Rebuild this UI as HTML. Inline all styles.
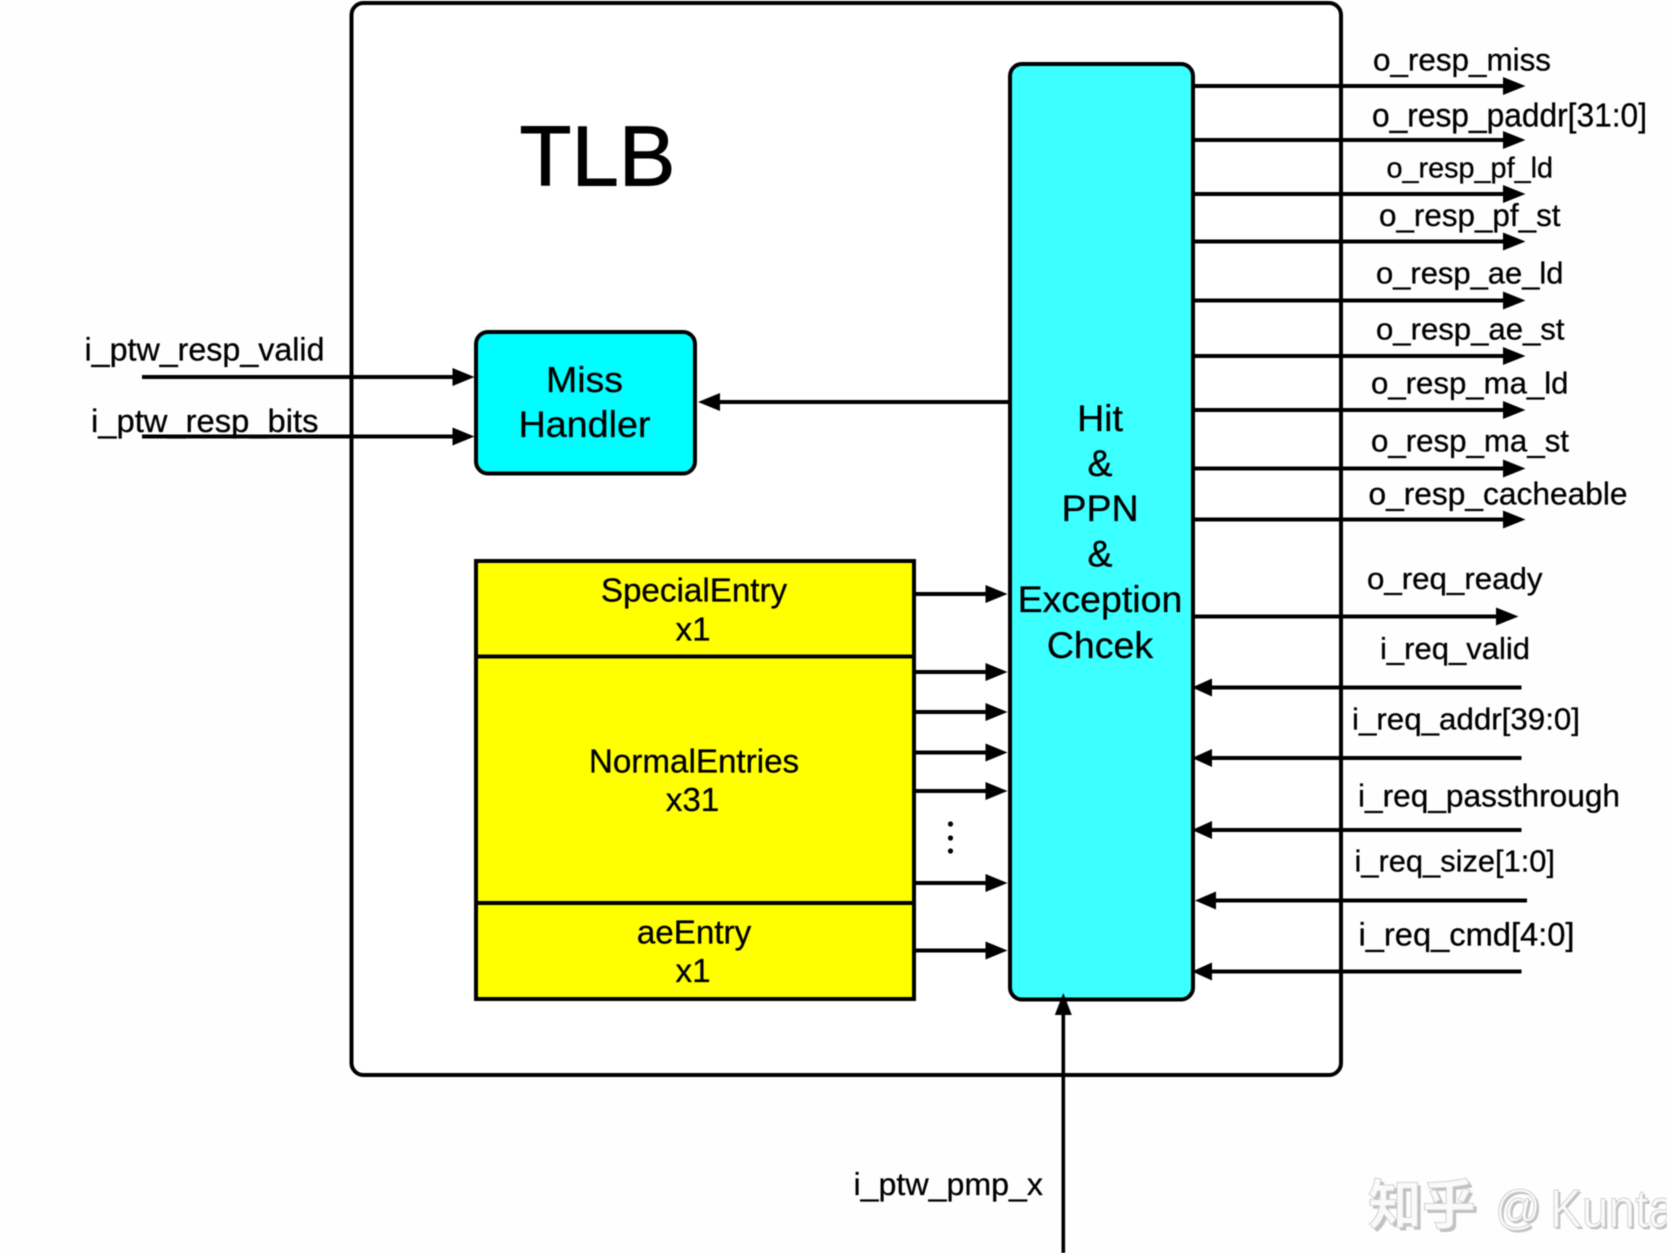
<!DOCTYPE html>
<html><head><meta charset="utf-8"><style>
html,body{margin:0;padding:0;background:#fff;width:1667px;height:1253px;overflow:hidden}
svg{display:block}
text{font-family:"Liberation Sans","Noto Sans CJK SC",sans-serif;fill:#000;stroke:#000;stroke-width:.3px}
.l{stroke:#000;stroke-width:4;fill:none}
</style></head><body>
<svg width="1667" height="1253" viewBox="0 0 1667 1253" xmlns="http://www.w3.org/2000/svg">
<rect width="1667" height="1253" fill="#fefefe"/>
<g style="filter:blur(.6px)">
<rect x="351.5" y="3" width="989.5" height="1072" rx="12" class="l" style="fill:#fff"/>

<!-- left inputs -->
<path class="l" d="M142 377H455M142 436.5H455"/>
<polygon points="452.5,368 474.5,377 452.5,386"/><polygon points="452.5,427.5 474.5,436.5 452.5,445.5"/>

<!-- Miss Handler -->
<rect x="476" y="332" width="219" height="141.5" rx="12" class="l" style="fill:#00fdff"/>
<!-- Entries -->
<rect x="476" y="561" width="438" height="438" class="l" style="fill:#ffff00"/>
<path class="l" d="M476 656.5H914M476 903H914"/>

<!-- hit block -->
<rect x="1010" y="64" width="183" height="935.5" rx="12" class="l" style="fill:#3cffff"/>

<!-- miss arrow -->
<path class="l" d="M1010 402H715"/>
<polygon points="698,402 720,393 720,411"/>

<!-- entry arrows -->
<path class="l" d="M914 594H990M914 672H990M914 712H990M914 752.5H990M914 791H990M914 883H990M914 950.5H990"/>
<polygon points="985.5,585 1007.5,594 985.5,603"/>
<polygon points="985.5,663 1007.5,672 985.5,681"/>
<polygon points="985.5,703 1007.5,712 985.5,721"/>
<polygon points="985.5,743.5 1007.5,752.5 985.5,761.5"/>
<polygon points="985.5,782 1007.5,791 985.5,800"/>
<polygon points="985.5,874 1007.5,883 985.5,892"/>
<polygon points="985.5,941.5 1007.5,950.5 985.5,959.5"/>
<circle cx="950.5" cy="824" r="2.6"/><circle cx="950.5" cy="838" r="2.6"/><circle cx="950.5" cy="851" r="2.6"/>

<!-- outputs -->
<path class="l" d="M1193 86H1505M1193 140H1505M1193 194H1505M1193 241.5H1505M1193 300.5H1505M1193 356H1505M1193 410H1505M1193 468.5H1505M1193 519.5H1505M1193 616.5H1498"/>
<polygon points="1503,77 1525.5,86 1503,95"/>
<polygon points="1503,131 1525.5,140 1503,149"/>
<polygon points="1503,185 1525.5,194 1503,203"/>
<polygon points="1503,232.5 1525.5,241.5 1503,250.5"/>
<polygon points="1503,291.5 1525.5,300.5 1503,309.5"/>
<polygon points="1503,347 1525.5,356 1503,365"/>
<polygon points="1503,401 1525.5,410 1503,419"/>
<polygon points="1503,459.5 1525.5,468.5 1503,477.5"/>
<polygon points="1503,510.5 1525.5,519.5 1503,528.5"/>
<polygon points="1496,607.5 1518.5,616.5 1496,625.5"/>

<!-- inputs right -->
<path class="l" d="M1521.5 687.5H1210M1521.5 758H1210M1521.5 830H1210M1527 900.5H1212M1521.5 971.5H1210"/>
<polygon points="1192,687.5 1212,678.5 1212,696.5"/>
<polygon points="1192,758 1212,749 1212,767"/>
<polygon points="1192,830 1212,821 1212,839"/>
<polygon points="1195,900.5 1216,891.5 1216,909.5"/>
<polygon points="1192,971.5 1212,962.5 1212,980.5"/>

<!-- bottom arrow -->
<path d="M1063.3 1253V1010" stroke="#000" stroke-width="3.6" fill="none"/>
<polygon points="1063.3,993 1054.8,1015 1071.8,1015"/>

<!-- text -->
<text x="519.5" y="185.5" font-size="85" textLength="156" lengthAdjust="spacingAndGlyphs" style="stroke-width:1px">TLB</text>

<text x="84.5" y="360.5" font-size="32" textLength="240" lengthAdjust="spacingAndGlyphs">i_ptw_resp_valid</text>
<text x="91" y="432" font-size="32.5" textLength="227.5" lengthAdjust="spacingAndGlyphs">i_ptw_resp_bits</text>

<text x="546" y="392" font-size="36.5" textLength="77" lengthAdjust="spacingAndGlyphs">Miss</text>
<text x="518.5" y="437" font-size="36.8" textLength="132" lengthAdjust="spacingAndGlyphs">Handler</text>

<g text-anchor="middle" font-size="37.5">
<text x="1100" y="431">Hit</text>
<text x="1100" y="476">&amp;</text>
<text x="1100" y="521">PPN</text>
<text x="1100" y="566.5">&amp;</text>
<text x="1100" y="612">Exception</text>
<text x="1100" y="658">Chcek</text>
</g>
<g text-anchor="middle" font-size="33.2">
<text x="694" y="601.5">SpecialEntry</text>
<text x="693" y="640.5">x1</text>
<text x="694" y="772.5">NormalEntries</text>
<text x="692.5" y="811">x31</text>
<text x="694" y="943.5">aeEntry</text>
<text x="693" y="982">x1</text>
</g>

<text x="1373" y="70.5" font-size="31.2" textLength="178" lengthAdjust="spacingAndGlyphs">o_resp_miss</text>
<text x="1372" y="126.5" font-size="33.4" textLength="275" lengthAdjust="spacingAndGlyphs">o_resp_paddr[31:0]</text>
<text x="1386.5" y="177.5" font-size="28.6" textLength="166.5" lengthAdjust="spacingAndGlyphs">o_resp_pf_ld</text>
<text x="1379" y="226" font-size="31.2" textLength="181.5" lengthAdjust="spacingAndGlyphs">o_resp_pf_st</text>
<text x="1376" y="283.5" font-size="30.7" textLength="187.5" lengthAdjust="spacingAndGlyphs">o_resp_ae_ld</text>
<text x="1376" y="339.5" font-size="30.8" textLength="188.5" lengthAdjust="spacingAndGlyphs">o_resp_ae_st</text>
<text x="1371" y="393.5" font-size="31" textLength="197.5" lengthAdjust="spacingAndGlyphs">o_resp_ma_ld</text>
<text x="1371" y="451.5" font-size="31.2" textLength="198" lengthAdjust="spacingAndGlyphs">o_resp_ma_st</text>
<text x="1368.5" y="504.5" font-size="31.3" textLength="259" lengthAdjust="spacingAndGlyphs">o_resp_cacheable</text>
<text x="1367" y="589" font-size="31" textLength="175.5" lengthAdjust="spacingAndGlyphs">o_req_ready</text>
<text x="1380" y="659" font-size="30.7" textLength="150" lengthAdjust="spacingAndGlyphs">i_req_valid</text>
<text x="1352" y="729.5" font-size="31" textLength="228" lengthAdjust="spacingAndGlyphs">i_req_addr[39:0]</text>
<text x="1358" y="806.5" font-size="31.5" textLength="262" lengthAdjust="spacingAndGlyphs">i_req_passthrough</text>
<text x="1354.5" y="871.5" font-size="30.6" textLength="200.5" lengthAdjust="spacingAndGlyphs">i_req_size[1:0]</text>
<text x="1358.5" y="945.5" font-size="32.4" textLength="216" lengthAdjust="spacingAndGlyphs">i_req_cmd[4:0]</text>
<text x="853.5" y="1195" font-size="31.9" textLength="189.5" lengthAdjust="spacingAndGlyphs">i_ptw_pmp_x</text>
</g>

<!-- watermark -->
<g font-weight="bold" style="filter:blur(.6px)">
<text x="1371" y="1227" font-size="54" style="fill:#c2c2c2;stroke:none">知乎</text>
<text x="1497" y="1226" font-size="48" textLength="46" lengthAdjust="spacingAndGlyphs" style="fill:#c2c2c2;stroke:none;font-weight:normal">@</text>
<text x="1552" y="1229" font-size="54" textLength="125" lengthAdjust="spacingAndGlyphs" style="fill:#c2c2c2;stroke:none;font-weight:normal">Kunta</text>
<text x="1368" y="1224" font-size="54" style="fill:#fafafa;stroke:#c8c8c8;stroke-width:.8">知乎</text>
<text x="1495" y="1224" font-size="48" textLength="46" lengthAdjust="spacingAndGlyphs" style="fill:#fafafa;stroke:#c8c8c8;stroke-width:.8;font-weight:normal">@</text>
<text x="1550" y="1227" font-size="54" textLength="125" lengthAdjust="spacingAndGlyphs" style="fill:#fafafa;stroke:#c8c8c8;stroke-width:.8;font-weight:normal">Kunta</text>
</g>
</svg>
</body></html>
